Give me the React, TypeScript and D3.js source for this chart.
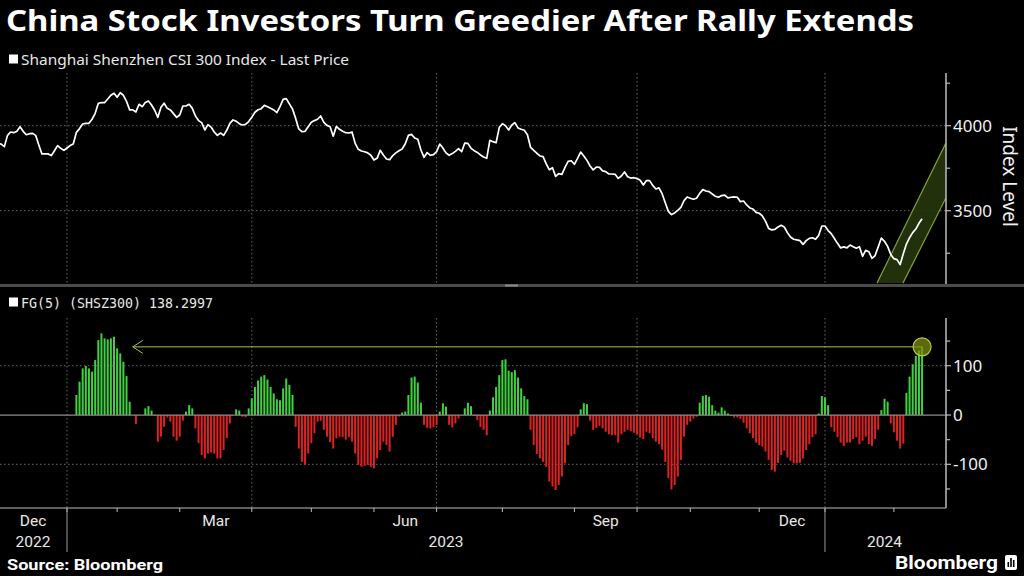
import React from 'react';
import * as d3 from 'd3';

const title = 'China Stock Investors Turn Greedier After Rally Extends';
const priceLegend = 'Shanghai Shenzhen CSI 300 Index - Last Price';
const fgLegend = 'FG(5) (SHSZ300) 138.2997';
const yAxisTitle = 'Index Level';
const sourceText = 'Source: Bloomberg';
const brand = 'Bloomberg';

// trading-day axis: months and their number of trading days
const monthNames = ['Dec', 'Jan', 'Feb', 'Mar', 'Apr', 'May', 'Jun', 'Jul', 'Aug', 'Sep', 'Oct', 'Nov', 'Dec', 'Jan', 'Feb'];
const monthTradingDays = [22, 16, 20, 23, 19, 20, 20, 21, 23, 20, 17, 22, 21, 22, 10];
const labeledMonths = [0, 3, 6, 9, 12];
const gridMonths = [1, 4, 7, 10, 13];
const yearLabels = ['2022', '2023', '2024'];
const yearStartMonths = [0, 1, 13];

const priceTicks = [3250, 3500, 3750, 4000, 4250];
const priceLabeled = [3500, 4000];
const fgTicks = [-150, -100, -50, 0, 50, 100, 150];
const fgLabeled = [-100, 0, 100];

// CSI 300 daily close (trading days, Dec 2022 - Feb 2024)
const price = [
  3896, 3892, 3877, 3943, 3963, 3959, 3967, 3994, 3967, 3947,
  3953, 3955, 3943, 3887, 3834, 3834, 3834, 3824, 3853, 3883,
  3867, 3855, 3869, 3883, 3892, 3961, 3983, 4010, 4014, 4014,
  4038, 4073, 4132, 4136, 4136, 4157, 4179, 4191, 4167, 4194,
  4179, 4143, 4093, 4093, 4081, 4126, 4112, 4136, 4145, 4122,
  4091, 4049, 4108, 4132, 4102, 4093, 4071, 4049, 4063, 4116,
  4116, 4126, 4102, 4057, 4030, 4018, 3975, 4006, 3992, 3963,
  3943, 3957, 3943, 3973, 4014, 4034, 4026, 4012, 4004, 4008,
  4024, 4049, 4079, 4094, 4100, 4120, 4112, 4102, 4093, 4077,
  4112, 4155, 4159, 4128, 4098, 4043, 3981, 3965, 3967, 3994,
  4020, 4030, 4038, 4057, 4020, 4002,
  3994, 3938, 3996, 3979,
  3967, 3959, 3957, 3963, 3896, 3861, 3851, 3847, 3840, 3826,
  3798, 3808, 3855, 3828, 3804, 3800, 3824, 3840, 3853, 3863,
  3894, 3943, 3949, 3928, 3920, 3857, 3814, 3842, 3826, 3830,
  3847, 3892, 3869, 3840, 3826, 3836, 3849, 3865, 3847, 3898,
  3896, 3867, 3853, 3843, 3828, 3816, 3808, 3914, 3906, 3900,
  3989, 4012, 4000, 3975, 4004, 4018, 3987, 3979, 3973, 3947,
  3873, 3855, 3838, 3822, 3818, 3775, 3741, 3753, 3702, 3718,
  3714, 3755, 3790, 3794, 3773, 3808, 3845, 3822, 3796, 3763,
  3740, 3757, 3755, 3734, 3730, 3716, 3716, 3714, 3690, 3704,
  3728, 3700, 3692, 3694, 3689, 3679, 3651, 3677, 3677, 3649,
  3628, 3634, 3600, 3547, 3496, 3477, 3487, 3502,
  3520, 3559, 3581, 3573, 3567, 3573, 3602, 3624, 3616, 3612, 3598, 3585,
  3579, 3589, 3592, 3575, 3579, 3581, 3579, 3553, 3557, 3534,
  3516, 3510, 3490, 3485, 3469, 3439, 3396, 3387, 3390, 3404,
  3414, 3404, 3371, 3345, 3332, 3328, 3324, 3302, 3324, 3337,
  3341, 3332, 3355, 3410, 3410, 3383, 3365, 3337, 3308, 3281,
  3287, 3281, 3298, 3288, 3279, 3288, 3232, 3267, 3259, 3220,
  3236, 3287, 3339, 3320, 3290, 3243, 3218, 3212, 3183, 3247,
  3304, 3341, 3371, 3392, 3426, 3453,
];

// Fear & Greed FG(5) daily values (null = not plotted)
const fg: (number | null)[] = [
  null, null, null, null, null, null, null, null, null, null,
  null, null, null, null, null, null, null, null, null, null,
  null, null, null, null, null,
  40.6, 67.6, 94.6, 99.4, 94.6, 87.9, 111.5, 152, 165.6, 155.5,
  153.5, 155.5, 158.9, 135.2, 125, 108, 79, 27,
  0, -18, 0, 0, 13.5, 18, 9,
  -2, -54, -44, -24, -5, -13.5, -44, -52, -44, -11.5,
  7, 20, 13.5, -27, -57, -81, -88, -78, -76, -78,
  -88, -88, -71, -47, -17, 0, 11.5, 9, -3.4, -4.7,
  13.5, 34, 57, 70, 78, 81, 72, 57, 44, 32,
  30, 54, 74, 61, 40.6,
  -24, -68, -95, -101, -78, -57, -37, -13.5, -12, -30, -44,
  -55, -68, -47, -44, -45, -50, -45, -54,
  -78, -101, -105, -103, -101, -105, -108, -88, -71, -54, -61, -74, -44, -20, -3,
  5, 7, 40.6, 76, 78, 66, 25,
  -20, -26, -27, -25, -20,
  7, 24, 17,
  -20, -25, -17, -7,
  0, 13.5, 25, 18,
  -2, -10, -24, -30, -41,
  9, 36, 57, 81, 111.5, 113, 90, 87, 91, 76, 54, 38.5, 32,
  -30, -61, -79, -88, -95, -105, -135, -145, -152, -142, -125, -98, -61, -43, -39, -25,
  11.5, 24, 22,
  -11.5, -30, -26, -22, -27, -34, -39, -41, -41, -56, -39, -34, -30, -33, -36, -39, -46, -49, -34, -37, -47, -54, -59,
  -70, -95, -128, -151, -142, -125, -91, -44, -20, -13.5, -7, -3.4,
  25, 38.5, 40.6, 37, 20, 9, 5, 15.5, 9, 3.4,
  -2, -5, -5, -7.4, -15.5, -27, -37, -47, -56, -61, -64, -74, -91, -111.5, -115, -97, -81, -72, -86, -93, -98, -98, -97, -88, -71, -59, -45, -39, 3,
  38.5, 36, 20,
  -25, -34, -45, -56, -63, -56, -56, -49, -45, -59, -52, -44, -59, -63, -49, -30,
  10, 33, 27,
  -17, -35, -52, -68, -58,
  45, 78, 103, 120, 131, 138.3,
];

// trend channel annotation in (trading-day index, index level)
const channelUpper: [number, number][] = [[280.6, 3074], [302.6, 3898]];
const channelLower: [number, number][] = [[288.9, 3074], [302.6, 3575]];
const arrowToIndex = 43;

const W = 1024;
const H = 576;
const axisX = 946;
const topPanel = { top: 73, bottom: 284 };
const botPanel = { top: 318, bottom: 508 };

export default function App() {
  const x = d3.scaleLinear().domain([0, 302]).range([-1.9, 944]);
  const yTop = d3.scaleLinear().domain([3070, 4270]).range([283.8, 79.8]);
  const yBot = d3.scaleLinear().domain([-188, 195]).range([507.7, 318.9]);

  const monthStarts: number[] = [];
  let acc = 0;
  monthTradingDays.forEach((d) => {
    monthStarts.push(acc);
    acc += d;
  });
  const monthEnd = (m: number) => monthStarts[m] + monthTradingDays[m];

  const line = d3
    .line<number>()
    .x((_, i) => x(i))
    .y((d) => yTop(d));

  const channelPath =
    'M' + channelUpper.map(([i, v]) => `${x(i)},${yTop(v)}`).join('L') +
    'L' + channelLower.slice().reverse().map(([i, v]) => `${x(i)},${yTop(v)}`).join('L') + 'Z';

  const lastIdx = fg.length - 1;
  const lastVal = fg[lastIdx] as number;
  const ax = x(lastIdx);
  const ay = yBot(lastVal);
  const tipX = x(arrowToIndex);

  const gridColor = '#6a6a6a';
  const green = '#3fd23f';
  const red = '#dc2222';
  const accent = '#a4c94a';

  // year label centers
  const yearCenters = yearStartMonths.map((m, k) => {
    const start = monthStarts[m];
    const end = k < yearStartMonths.length - 1 ? monthStarts[yearStartMonths[k + 1]] : 302;
    return x((start + end) / 2);
  });

  return (
    <svg
      width={W}
      height={H}
      style={{ position: 'absolute', left: 0, top: 0, background: '#000', display: 'block' }}
      fontFamily="'Noto Sans', 'Open Sans', sans-serif"
    >
      <defs>
        <clipPath id="clipTop">
          <rect x={0} y={topPanel.top} width={axisX} height={topPanel.bottom - topPanel.top} />
        </clipPath>
        <clipPath id="clipBot">
          <rect x={0} y={botPanel.top} width={axisX} height={botPanel.bottom - botPanel.top} />
        </clipPath>
      </defs>
      <rect x={0} y={0} width={W} height={H} fill="#000" />

      {/* Title */}
      <text x={6} y={31} fill="#fff" fontSize={28} fontWeight={700} textLength={908} lengthAdjust="spacingAndGlyphs">
        {title}
      </text>

      {/* legends */}
      <rect x={9} y={54.5} width={9} height={9} fill="#fff" />
      <text x={21} y={64.5} fill="#e8e8e8" fontSize={14} textLength={328} lengthAdjust="spacingAndGlyphs">
        {priceLegend}
      </text>
      <rect x={9} y={297.5} width={9} height={9} fill="#fff" />
      <text x={21} y={307.5} fill="#e8e8e8" fontSize={13.5} fontFamily="'DejaVu Sans Mono', monospace" textLength={192} lengthAdjust="spacingAndGlyphs">
        {fgLegend}
      </text>

      {/* ---- top panel ---- */}
      {gridMonths.map((m) => (
        <line key={'vt' + m} x1={x(monthStarts[m])} x2={x(monthStarts[m])} y1={topPanel.top} y2={topPanel.bottom}
          stroke={gridColor} strokeDasharray="1.5,2.5" strokeWidth={1} />
      ))}
      {priceLabeled.map((v) => (
        <line key={'ht' + v} x1={0} x2={axisX} y1={yTop(v)} y2={yTop(v)} stroke={gridColor} strokeDasharray="1.5,2.5" />
      ))}
      <g clipPath="url(#clipTop)">
        <path d={channelPath} fill="#26350c" fillOpacity={0.9} stroke="none" />
        <line x1={x(channelUpper[0][0])} y1={yTop(channelUpper[0][1])} x2={x(channelUpper[1][0])} y2={yTop(channelUpper[1][1])} stroke="#7f9f35" strokeWidth={1.2} />
        <line x1={x(channelLower[0][0])} y1={yTop(channelLower[0][1])} x2={x(channelLower[1][0])} y2={yTop(channelLower[1][1])} stroke="#7f9f35" strokeWidth={1.2} />
        <path d={line(price) || ''} fill="none" stroke="#fff" strokeWidth={1.7} strokeLinejoin="round" />
      </g>
      <line x1={axisX} x2={axisX} y1={topPanel.top} y2={topPanel.bottom} stroke="#bdbdbd" strokeWidth={1.5} />
      {priceTicks.map((v) => (
        <line key={'pt' + v} x1={axisX} x2={axisX + (priceLabeled.includes(v) ? 5 : 4)} y1={yTop(v)} y2={yTop(v)} stroke="#bdbdbd" strokeWidth={1.2} />
      ))}
      {priceLabeled.map((v) => (
        <text key={'pl' + v} x={953} y={yTop(v)} dy="0.35em" fill="#f0f0f0" fontSize={17}>
          {v}
        </text>
      ))}
      <text transform={`translate(1003,${(topPanel.top + topPanel.bottom) / 2 - 2}) rotate(90)`} textAnchor="middle" fill="#f0f0f0" fontSize={19}>
        {yAxisTitle}
      </text>

      {/* divider */}
      <rect x={0} y={284} width={W} height={3} fill="#4b4b4b" />
      <rect x={505} y={284.5} width={13} height={2} fill="#8a8a8a" />

      {/* ---- bottom panel ---- */}
      {gridMonths.map((m) => (
        <line key={'vb' + m} x1={x(monthStarts[m])} x2={x(monthStarts[m])} y1={botPanel.top} y2={botPanel.bottom}
          stroke={gridColor} strokeDasharray="1.5,2.5" />
      ))}
      {fgLabeled.filter((v) => v !== 0).map((v) => (
        <line key={'hb' + v} x1={0} x2={axisX} y1={yBot(v)} y2={yBot(v)} stroke={gridColor} strokeDasharray="1.5,2.5" />
      ))}
      <g clipPath="url(#clipBot)">
        {fg.map((v, i) =>
          v === null || v === 0 ? null : (
            <rect key={'b' + i} x={x(i) - 1} width={2}
              y={Math.min(yBot(v), yBot(0))} height={Math.abs(yBot(v) - yBot(0))}
              fill={v > 0 ? green : red} />
          )
        )}
      </g>
      <line x1={0} x2={axisX} y1={yBot(0)} y2={yBot(0)} stroke="#8d8d8d" strokeWidth={1.2} />

      {/* arrow annotation */}
      <line x1={ax} x2={tipX} y1={ay} y2={ay} stroke={accent} strokeWidth={1} />
      <path d={`M${tipX + 10},${ay - 6.5}L${tipX},${ay}L${tipX + 10},${ay + 6.5}`} fill="none" stroke={accent} strokeWidth={1} />
      <circle cx={ax} cy={ay} r={9} fill="#7d8c14" fillOpacity={0.75} stroke="#b3cc3a" strokeWidth={1.2} />

      <line x1={axisX} x2={axisX} y1={botPanel.top} y2={botPanel.bottom} stroke="#bdbdbd" strokeWidth={1.5} />
      {fgTicks.map((v) => (
        <line key={'ft' + v} x1={axisX} x2={axisX + (fgLabeled.includes(v) ? 5 : 4)} y1={yBot(v)} y2={yBot(v)} stroke="#bdbdbd" strokeWidth={1.2} />
      ))}
      {fgLabeled.map((v) => (
        <text key={'fl' + v} x={953} y={yBot(v)} dy="0.35em" fill="#f0f0f0" fontSize={17}>
          {v}
        </text>
      ))}

      {/* x axis */}
      <line x1={0} x2={axisX} y1={botPanel.bottom} y2={botPanel.bottom} stroke="#bdbdbd" strokeWidth={1.2} />
      {monthStarts.slice(1).map((s, k) => (
        <line key={'mt' + k} x1={x(s)} x2={x(s)} y1={botPanel.bottom} y2={botPanel.bottom + 4} stroke="#bdbdbd" strokeWidth={1} />
      ))}
      {labeledMonths.map((m) => (
        <text key={'ml' + m} x={Math.max(x((monthStarts[m] + monthEnd(m)) / 2), 33)} y={526} textAnchor="middle"
          fill="#e8e8e8" fontSize={15.5} fontFamily="'Liberation Sans Narrow', 'Roboto', sans-serif">
          {monthNames[m]}
        </text>
      ))}
      {yearStartMonths.slice(1).map((m) => (
        <line key={'ys' + m} x1={x(monthStarts[m])} x2={x(monthStarts[m])} y1={botPanel.bottom} y2={552} stroke="#9a9a9a" strokeWidth={1} />
      ))}
      {yearLabels.map((t, k) => (
        <text key={'yl' + t} x={k === 0 ? 33 : yearCenters[k]} y={547} textAnchor="middle" fill="#e8e8e8" fontSize={15.5}
          fontFamily="'Liberation Sans Narrow', 'Roboto', sans-serif">
          {t}
        </text>
      ))}

      {/* footer */}
      <text x={7} y={570} fill="#fff" fontSize={14.5} fontWeight={700} fontFamily="'Liberation Sans Narrow', 'Roboto', sans-serif" textLength={156} lengthAdjust="spacingAndGlyphs">
        {sourceText}
      </text>
      <text x={895} y={569} fill="#fff" fontSize={18} fontWeight={700} fontFamily="'Liberation Sans Narrow', 'Roboto', sans-serif" textLength={103} lengthAdjust="spacingAndGlyphs">
        {brand}
      </text>
      <g>
        <rect x={1005} y={555} width={12} height={15} rx={2} fill="#fff" />
        <rect x={1007.5} y={562} width={1.6} height={5} fill="#000" />
        <rect x={1010.2} y={558} width={1.6} height={9} fill="#000" />
        <rect x={1012.9} y={560} width={1.6} height={7} fill="#000" />
      </g>
    </svg>
  );
}
